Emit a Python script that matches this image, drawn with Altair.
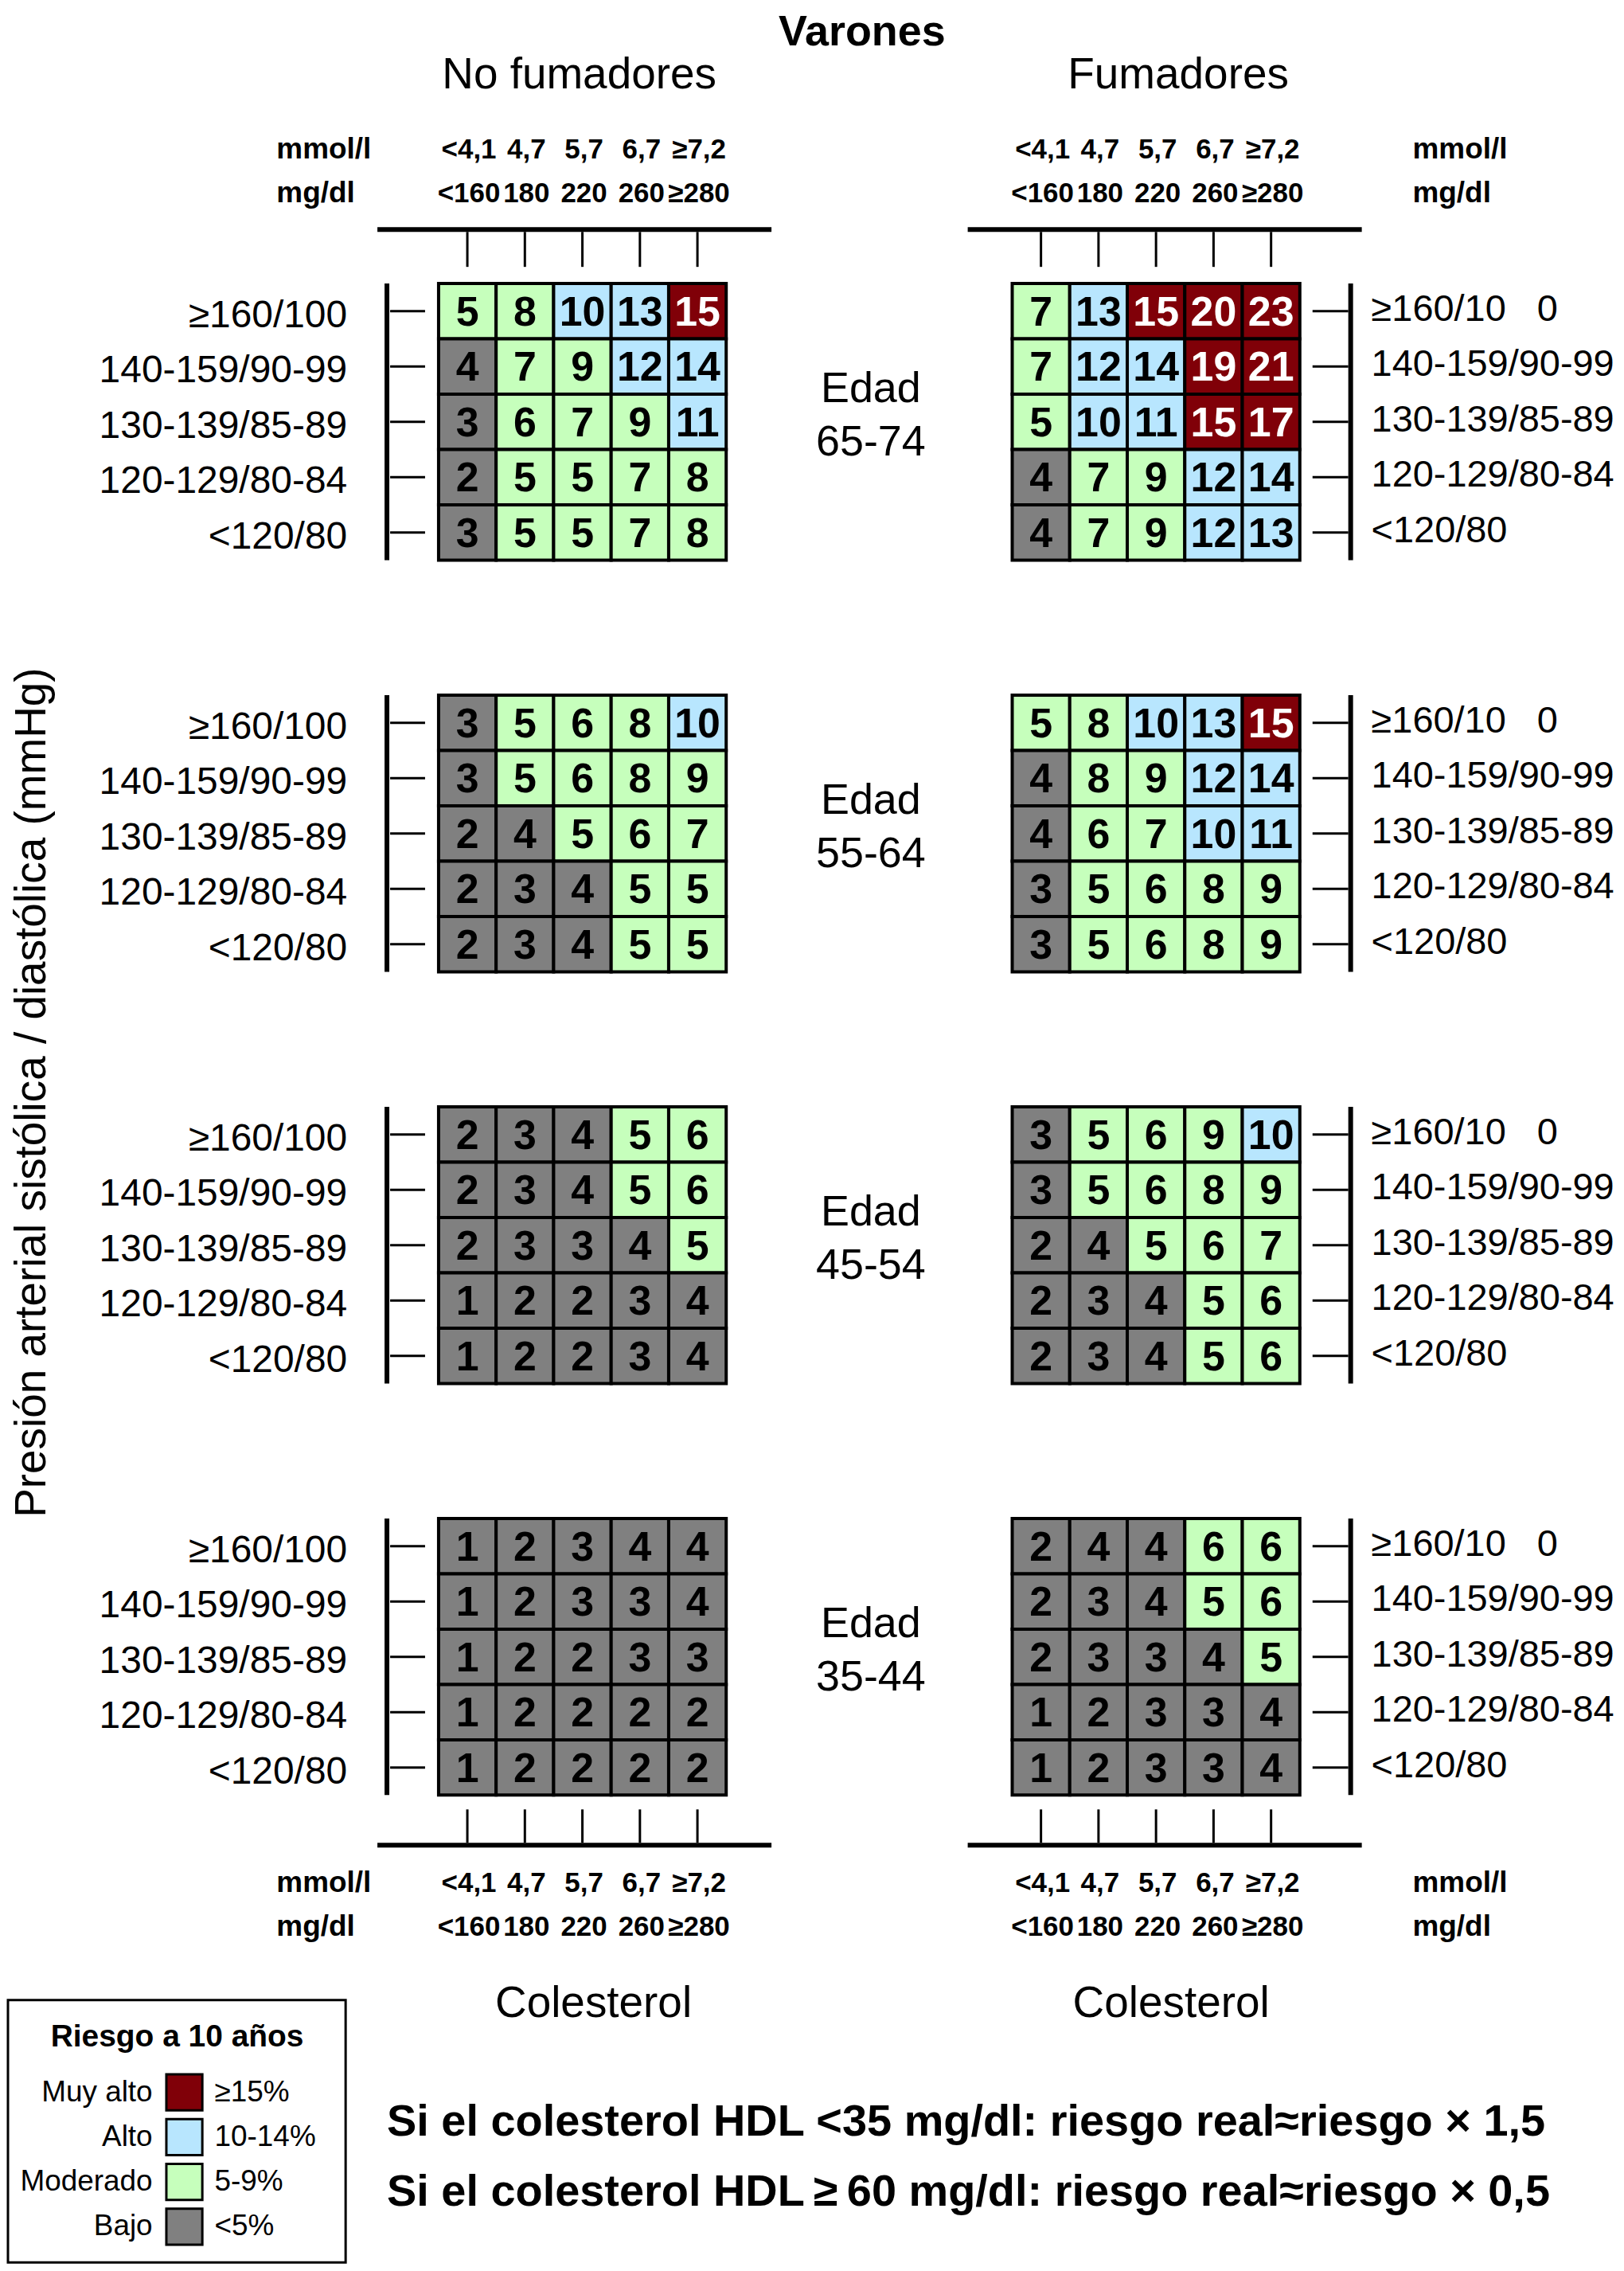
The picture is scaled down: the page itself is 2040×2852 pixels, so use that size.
import altair as alt
import pandas as pd

FONT = "Liberation Sans"

# ---------------- data ----------------
chol_mmol = ["<4,1", "4,7", "5,7", "6,7", "≥7,2"]
chol_mg = ["<160", "180", "220", "260", "≥280"]
bp_levels = ["≥160/100", "140-159/90-99", "130-139/85-89", "120-129/80-84", "<120/80"]
bp_right_labels = ["≥160/10\u00a0\u00a0\u00a00", "140-159/90-99", "130-139/85-89",
                   "120-129/80-84", "<120/80"]
ages = ["65-74", "55-64", "45-54", "35-44"]

no_fumadores = {
    "65-74": [[5, 8, 10, 13, 15], [4, 7, 9, 12, 14], [3, 6, 7, 9, 11], [2, 5, 5, 7, 8], [3, 5, 5, 7, 8]],
    "55-64": [[3, 5, 6, 8, 10], [3, 5, 6, 8, 9], [2, 4, 5, 6, 7], [2, 3, 4, 5, 5], [2, 3, 4, 5, 5]],
    "45-54": [[2, 3, 4, 5, 6], [2, 3, 4, 5, 6], [2, 3, 3, 4, 5], [1, 2, 2, 3, 4], [1, 2, 2, 3, 4]],
    "35-44": [[1, 2, 3, 4, 4], [1, 2, 3, 3, 4], [1, 2, 2, 3, 3], [1, 2, 2, 2, 2], [1, 2, 2, 2, 2]],
}
fumadores = {
    "65-74": [[7, 13, 15, 20, 23], [7, 12, 14, 19, 21], [5, 10, 11, 15, 17], [4, 7, 9, 12, 14], [4, 7, 9, 12, 13]],
    "55-64": [[5, 8, 10, 13, 15], [4, 8, 9, 12, 14], [4, 6, 7, 10, 11], [3, 5, 6, 8, 9], [3, 5, 6, 8, 9]],
    "45-54": [[3, 5, 6, 9, 10], [3, 5, 6, 8, 9], [2, 4, 5, 6, 7], [2, 3, 4, 5, 6], [2, 3, 4, 5, 6]],
    "35-44": [[2, 4, 4, 6, 6], [2, 3, 4, 5, 6], [2, 3, 3, 4, 5], [1, 2, 3, 3, 4], [1, 2, 3, 3, 4]],
}

risk_names = ["Muy alto", "Alto", "Moderado", "Bajo"]
risk_ranges = ["≥15%", "10-14%", "5-9%", "<5%"]
risk_colors = ["#800008", "#b8e6fe", "#c6ffbc", "#808080"]

footnotes = ["Si el colesterol HDL <35 mg/dl: riesgo real≈riesgo × 1,5",
             "Si el colesterol HDL\u2009≥\u200960 mg/dl: riesgo real≈riesgo × 0,5"]

W, H = 362, 348


def risk_of(v):
    if v >= 15:
        return "Muy alto"
    if v >= 10:
        return "Alto"
    if v >= 5:
        return "Moderado"
    return "Bajo"


one = pd.DataFrame({"k": [0]})

X = alt.X("chol:N", scale=alt.Scale(type="band", domain=chol_mg, paddingInner=0, paddingOuter=0), axis=None)
Y = alt.Y("bp:N", scale=alt.Scale(type="band", domain=bp_levels, paddingInner=0, paddingOuter=0), axis=None)
COLOR = alt.Color("risk:N", scale=alt.Scale(domain=risk_names, range=risk_colors), legend=None)


def ctext(txt, x, y, size, bold=False, align="center", angle=None, baseline="middle"):
    kw = dict(font=FONT, fontSize=size, align=align, baseline=baseline, color="black")
    if bold:
        kw["fontWeight"] = "bold"
    if angle is not None:
        kw["angle"] = angle
    return alt.Chart(one).mark_text(**kw).encode(x=alt.value(x), y=alt.value(y), text=alt.value(txt))


def hline(x1, x2, y, w):
    return alt.Chart(one).mark_rule(color="black", strokeWidth=w, strokeCap="butt").encode(
        x=alt.value(x1), x2=alt.value(x2), y=alt.value(y))


def vline(x, y1, y2, w):
    return alt.Chart(one).mark_rule(color="black", strokeWidth=w, strokeCap="butt").encode(
        x=alt.value(x), y=alt.value(y1), y2=alt.value(y2))


chol_df = pd.DataFrame({"chol": chol_mg, "mmol": chol_mmol})


def x_axis(side, where):
    layers = []
    if where == "top":
        t1, t2, ly, ymm, ymg = -65, -21, -68, -168, -113
    else:
        t1, t2, ly, ymm, ymg = H + 18, H + 60, H + 63, H + 111, H + 166
    if side == "left":
        lx1, lx2, ux = -77, 419, -204
    else:
        lx1, lx2, ux = -56, 440, 504
    layers.append(alt.Chart(chol_df).mark_rule(color="black", strokeWidth=3).encode(
        x=X, y=alt.value(t1), y2=alt.value(t2)))
    layers.append(hline(lx1, lx2, ly, 6))
    layers.append(alt.Chart(chol_df).mark_text(font=FONT, fontSize=35, fontWeight="bold",
                                               baseline="middle", dx=2).encode(
        x=X, y=alt.value(ymm), text="mmol:N"))
    layers.append(alt.Chart(chol_df).mark_text(font=FONT, fontSize=35, fontWeight="bold",
                                               baseline="middle", dx=2).encode(
        x=X, y=alt.value(ymg), text="chol:N"))
    layers.append(ctext("mmol/l", ux, ymm, 37, bold=True, align="left"))
    layers.append(ctext("mg/dl", ux, ymg, 37, bold=True, align="left"))
    return layers


def y_axis(side):
    if side == "left":
        df = pd.DataFrame({"bp": bp_levels, "label": bp_levels})
        lx, tx1, tx2, labx, al, fs, dy = -65, -61, -17, -115, "right", 48, 6
    else:
        df = pd.DataFrame({"bp": bp_levels, "label": bp_right_labels})
        lx, tx1, tx2, labx, al, fs, dy = 426, 378, 423, 452, "left", 47, -2
    return [
        vline(lx, 0, H, 6),
        alt.Chart(df).mark_rule(color="black", strokeWidth=3).encode(
            y=Y, x=alt.value(tx1), x2=alt.value(tx2)),
        alt.Chart(df).mark_text(font=FONT, fontSize=fs, align=al, baseline="middle", dy=dy).encode(
            y=Y, x=alt.value(labx), text="label:N"),
    ]


legend_df = pd.DataFrame({"risk": risk_names, "range": risk_ranges})
LY = alt.Y("risk:N", scale=alt.Scale(type="point", domain=risk_names, range=[722, 891], padding=0), axis=None)


def legend_layers():
    box = alt.Chart(one).mark_rect(fill="white", stroke="black", strokeWidth=3).encode(
        x=alt.value(-542), x2=alt.value(-117), y=alt.value(606), y2=alt.value(936))
    title = ctext("Riesgo a 10 años", -329, 652, 39, bold=True)
    sw = alt.Chart(legend_df).mark_square(size=2050, opacity=1, stroke="black", strokeWidth=3).encode(
        y=LY, x=alt.value(-320), color=COLOR)
    names = alt.Chart(legend_df).mark_text(font=FONT, fontSize=37, align="right", baseline="middle").encode(
        y=LY, x=alt.value(-360), text="risk:N")
    rng = alt.Chart(legend_df).mark_text(font=FONT, fontSize=37, align="left", baseline="middle").encode(
        y=LY, x=alt.value(-282), text="range:N")
    return [box, title, sw, names, rng]


def panel(grid, side, i, age):
    rows = []
    for r, bp in enumerate(bp_levels):
        for c, ch in enumerate(chol_mg):
            v = grid[r][c]
            rows.append({"bp": bp, "chol": ch, "value": v, "risk": risk_of(v)})
    df = pd.DataFrame(rows)
    layers = []
    if side == "left" and i == 0:
        # invisible frame fixing the canvas to the page
        layers.append(alt.Chart(one).mark_rect(opacity=0).encode(
            x=alt.value(-544), x2=alt.value(1484), y=alt.value(-346), y2=alt.value(2494)))
    layers.append(alt.Chart(df).mark_rect(stroke="black", strokeWidth=4).encode(x=X, y=Y, color=COLOR))
    layers.append(alt.Chart(df).mark_text(font=FONT, fontSize=52, fontWeight="bold", baseline="middle",
                                          dy=2).encode(
        x=X, y=Y, text="value:Q",
        color=alt.condition(alt.datum.risk == "Muy alto", alt.value("white"), alt.value("black"))))
    layers += y_axis(side)
    if i == 0:
        layers += x_axis(side, "top")
    if i == len(ages) - 1:
        layers += x_axis(side, "bottom")
    if side == "left":
        layers.append(ctext("Edad", 544, 133, 54))
        layers.append(ctext(age, 544, 200, 54))
        if i == 0:
            layers.append(ctext("Varones", 533, -343, 54, bold=True, baseline="top"))
            layers.append(ctext("No fumadores", 177, -263, 55))
            layers.append(ctext("Presión arterial sistólica / diastólica (mmHg)", -512, 1018, 55, angle=270))
        if i == len(ages) - 1:
            layers.append(ctext("Colesterol", 195, 610, 55))
            layers += legend_layers()
            layers.append(ctext(footnotes[0], -65, 759, 56, bold=True, align="left"))
            layers.append(ctext(footnotes[1], -65, 848, 56, bold=True, align="left"))
    else:
        if i == 0:
            layers.append(ctext("Fumadores", 209, -263, 55))
        if i == len(ages) - 1:
            layers.append(ctext("Colesterol", 200, 610, 55))
    return alt.layer(*layers).resolve_scale(y="independent").properties(width=W, height=H)


panels = []
for i, age in enumerate(ages):
    panels.append(panel(no_fumadores[age], "left", i, age))
    panels.append(panel(fumadores[age], "right", i, age))

chart = alt.concat(*panels, columns=2, spacing={"row": 170, "column": 360}, bounds="flush") \
    .properties(padding=0).configure_view(stroke=None)

chart.save("out.html", embed_options={"renderer": "svg", "actions": False})
